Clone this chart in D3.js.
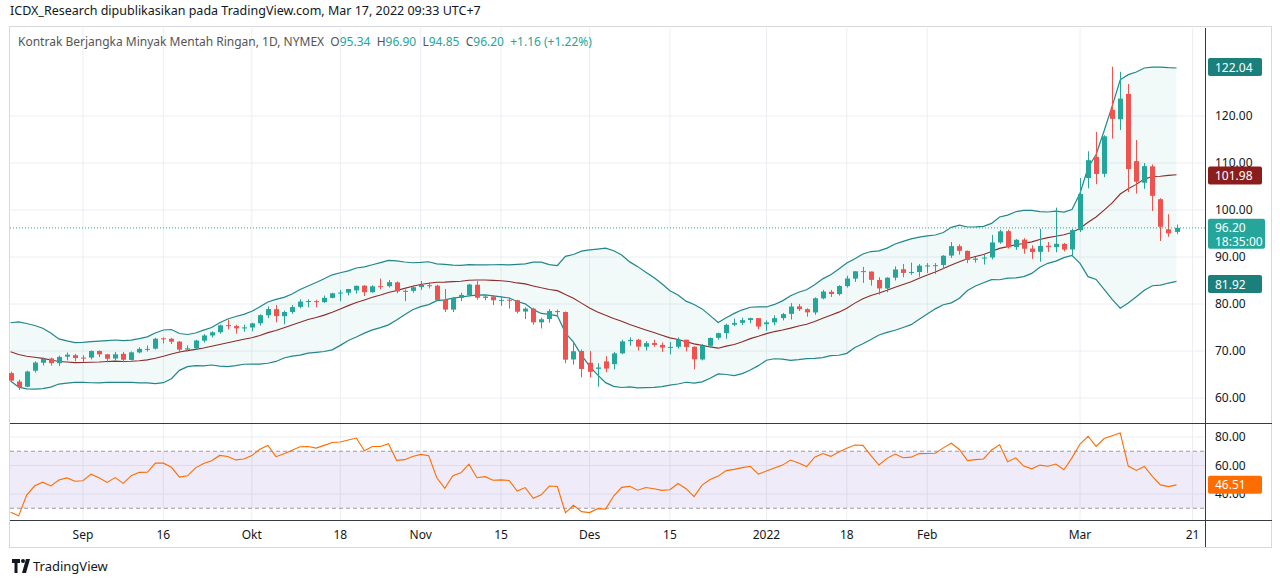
<!DOCTYPE html>
<html><head><meta charset="utf-8">
<script src="https://cdn.jsdelivr.net/npm/d3@7"></script>
<style>body{margin:0;background:#fff;font-family:"Noto Sans",Roboto,sans-serif}</style>
</head><body><div id="chart"></div>
<script>
// trading days shown, Aug 19 2021 .. Mar 17 2022
const dates = ["08-19","08-20","08-23","08-24","08-25","08-26","08-27","08-30","08-31",
  "09-01","09-02","09-03","09-07","09-08","09-09","09-10","09-13","09-14","09-15","09-16","09-17","09-20","09-21","09-22","09-23","09-24","09-27","09-28","09-29","09-30",
  "10-01","10-04","10-05","10-06","10-07","10-08","10-11","10-12","10-13","10-14","10-15","10-18","10-19","10-20","10-21","10-22","10-25","10-26","10-27","10-28","10-29",
  "11-01","11-02","11-03","11-04","11-05","11-08","11-09","11-10","11-11","11-12","11-15","11-16","11-17","11-18","11-19","11-22","11-23","11-24","11-26","11-29","11-30",
  "12-01","12-02","12-03","12-06","12-07","12-08","12-09","12-10","12-13","12-14","12-15","12-16","12-17","12-20","12-21","12-22","12-23","12-27","12-28","12-29","12-30","12-31",
  "01-03","01-04","01-05","01-06","01-07","01-10","01-11","01-12","01-13","01-14","01-18","01-19","01-20","01-21","01-24","01-25","01-26","01-27","01-28","01-31",
  "02-01","02-02","02-03","02-04","02-07","02-08","02-09","02-10","02-11","02-14","02-15","02-16","02-17","02-18","02-22","02-23","02-24","02-25","02-28",
  "03-01","03-02","03-03","03-04","03-07","03-08","03-09","03-10","03-11","03-14","03-15","03-16","03-17"];

const opens = [65.3,63.5,62.4,65.8,67.5,68.4,67.4,68.8,69.1,
  68.6,68.6,70.0,69.3,68.4,69.4,68.1,69.7,70.4,70.5,72.7,72.6,72.0,70.3,70.6,72.2,73.3,74.0,75.5,75.3,74.8,
  75.0,75.9,77.6,78.9,77.4,78.3,79.4,80.5,80.6,80.4,81.3,82.3,82.4,82.9,83.9,82.5,83.8,83.8,84.6,82.7,82.8,
  83.6,84.0,83.9,80.9,78.8,81.3,81.9,84.1,81.3,81.6,80.8,80.9,80.8,78.4,79.0,76.1,76.8,78.5,78.3,68.2,70.0,
  67.5,66.2,67.8,67.2,69.5,72.1,72.4,70.9,71.7,71.3,70.7,70.9,72.4,70.9,68.2,71.1,72.8,73.8,75.6,76.0,76.6,77.0,
  75.7,76.1,77.0,77.9,79.5,78.9,78.2,81.2,82.6,82.1,83.8,85.4,87.0,86.9,85.1,83.3,85.6,87.4,86.6,86.8,
  88.2,88.2,88.3,90.3,92.3,91.3,89.4,89.7,89.9,93.1,95.5,92.1,93.7,91.8,91.1,92.4,92.1,92.8,91.6,
  95.7,106.8,111.3,107.7,121.3,119.3,124.7,110.4,105.8,109.3,102.3,95.9,95.34];
const highs = [65.6,63.9,65.8,67.8,68.6,68.6,69.0,69.7,69.4,
  69.1,70.1,70.1,69.4,69.8,69.8,69.9,70.8,71.2,72.8,72.9,72.8,72.1,71.2,72.4,73.6,74.2,75.6,76.7,75.6,75.6,
  76.0,77.8,79.5,79.8,78.6,79.8,81.0,81.0,80.9,81.8,82.4,83.0,83.2,83.9,84.0,84.0,85.4,85.1,84.8,83.1,84.0,
  84.9,84.6,84.1,83.2,81.5,82.4,84.3,84.9,82.0,81.9,81.6,81.4,80.9,79.3,79.2,77.1,78.9,78.8,78.4,72.1,70.3,
  70.0,67.4,68.9,69.8,72.4,72.9,72.6,72.1,72.4,71.8,71.9,72.9,72.4,71.0,71.5,72.9,73.9,75.8,76.9,77.1,77.1,77.0,
  76.5,77.6,78.1,80.2,80.0,79.1,81.4,83.0,83.0,84.0,86.0,87.0,87.9,86.9,85.7,85.7,88.0,88.5,88.8,88.5,
  88.7,88.7,90.4,93.2,92.7,91.4,90.0,90.5,94.7,95.8,95.8,93.8,94.0,92.5,96.0,93.2,100.5,93.0,96.0,
  106.8,112.5,116.6,115.9,130.5,129.4,126.8,114.9,110.0,109.7,102.5,99.1,96.90];
const lows = [63.3,61.7,62.3,65.4,66.9,66.9,66.8,68.0,67.8,
  67.6,68.2,68.7,67.6,68.0,67.6,68.0,69.5,69.9,70.3,71.6,71.5,69.7,69.9,70.3,71.8,72.9,73.7,74.6,73.7,74.1,
  74.2,75.4,77.0,76.1,75.7,77.9,79.1,79.3,79.3,80.2,81.2,80.6,81.8,82.2,81.7,82.4,83.1,83.5,82.3,80.6,82.4,
  83.0,83.3,80.6,78.3,78.3,80.6,81.6,80.9,80.8,79.8,79.6,79.0,78.0,76.8,75.6,74.8,76.0,77.4,67.4,67.1,64.4,
  64.4,62.4,65.5,66.1,69.3,71.1,70.1,70.1,70.9,69.8,69.3,70.5,69.9,66.1,68.0,70.8,72.4,72.6,75.3,75.5,75.9,74.6,
  74.3,75.5,76.5,76.7,78.5,77.3,77.7,81.0,81.5,81.8,83.5,84.7,84.5,83.9,82.0,82.5,85.0,85.7,86.2,85.8,
  86.6,86.4,87.4,89.8,90.5,88.7,88.8,88.4,89.5,92.8,91.8,91.5,90.7,89.6,89.0,91.1,91.0,91.2,90.1,
  95.3,104.6,105.5,107.0,115.2,117.0,103.8,103.5,104.5,99.8,93.4,94.3,94.85];
const closes = [63.69,62.32,65.64,67.54,68.36,67.42,68.74,69.21,68.50,
  68.59,69.99,69.29,68.35,69.30,68.14,69.72,70.45,70.46,72.61,72.61,71.97,70.29,70.56,72.23,73.30,73.98,75.45,75.29,74.83,75.03,
  75.88,77.62,78.93,77.43,78.30,79.35,80.52,80.64,80.44,81.31,82.28,82.44,83.19,83.87,82.50,83.76,83.76,84.65,82.66,82.81,83.57,
  84.05,83.91,80.86,78.81,81.27,81.93,84.15,81.34,81.59,80.79,80.88,80.76,78.36,79.01,76.10,76.75,78.50,78.39,68.15,69.95,66.18,
  65.57,66.50,66.26,69.49,72.05,72.36,70.94,71.67,71.29,70.73,70.87,72.38,70.86,68.23,71.12,72.76,73.79,75.57,75.98,76.56,76.99,75.21,
  76.08,76.99,77.85,79.46,78.90,78.23,81.22,82.64,82.12,83.82,85.43,86.96,86.90,85.14,83.31,85.60,87.35,86.61,86.82,88.15,
  88.20,88.26,90.27,92.31,91.32,89.36,89.66,89.88,93.10,95.46,92.07,93.66,91.76,91.07,92.35,92.10,92.81,91.59,95.72,
  103.41,110.60,107.67,115.68,119.40,123.70,108.70,106.02,109.33,103.01,96.44,95.04,96.20];
// closes before the visible range (Jul 22 .. Aug 18), used only to warm up the indicators
const warmupCloses = [71.91,72.07,71.91,71.65,72.39,73.62,73.95,71.26,70.56,68.15,69.09,68.28,66.48,68.29,69.25,69.09,68.44,67.29,66.59,65.46];

const xTickDates = ["09-01","09-16","10-01","10-18","11-01","11-15","12-01","12-15","01-03","01-18","02-01","03-01","03-21"];
const xTickLabels = ["Sep","16","Okt","18","Nov","15","Des","15","2022","18","Feb","Mar","21"];
const priceTicks = [60,70,80,90,100,110,120];
const rsiTicks = [40,60,80];
const lastTags = {upper:122.04, mid:101.98, lower:81.92, price:96.20, rsi:46.51};

// indicators
const all = warmupCloses.concat(closes), off = warmupCloses.length;
const bb = closes.map((c,i) => {
  const w = all.slice(off+i-19, off+i+1), m = d3.mean(w), s = Math.sqrt(d3.mean(w, v => (v-m)**2));
  return {m, u:m+2*s, l:m-2*s};
});
let ag=0, al=0; const rsiAll=[];
for (let i=1;i<all.length;i++){
  const d=all[i]-all[i-1], g=Math.max(d,0), lo=Math.max(-d,0);
  if(i<=14){ag+=g/14; al+=lo/14;} else {ag=(ag*13+g)/14; al=(al*13+lo)/14;}
  rsiAll[i]= al===0?100:100-100/(1+ag/al);
}
const rsi = closes.map((c,i)=>rsiAll[off+i]);

// extra trading days after the last bar for the axis label
const extra = {"03-21":147};
const idx = d => dates.indexOf(d) >= 0 ? dates.indexOf(d) : extra[d];

const W=1280, H=584, padL=10, axisX=1205, topY=28, mainB=423, rsiB=520;
const svg = d3.select("#chart").append("svg").attr("width",W).attr("height",H)
  .style("font-family",'"Noto Sans",sans-serif');

const x = d3.scaleLinear().domain([0,145]).range([10.6,1176.5]);
const y = d3.scaleLinear().domain([60,120]).range([398,116]);
// the Bollinger overlay sits on its own (hidden) scale
const yb = d3.scaleLinear().domain([81.92,122.04]).range([284,67]);
const yr = d3.scaleLinear().domain([40,80]).range([494,437]);

svg.append("text").attr("x",10).attr("y",15).attr("font-size",12.5).attr("fill","#131722")
  .text("ICDX_Research dipublikasikan pada TradingView.com, Mar 17, 2022 09:33 UTC+7");
svg.append("rect").attr("x",9.5).attr("y",26.5).attr("width",1262).attr("height",521).attr("fill","none").attr("stroke","#d6dae0");

// grid
const grid = svg.append("g").attr("stroke","#eaeef3");
xTickDates.forEach(d => grid.append("line").attr("x1",x(idx(d))).attr("x2",x(idx(d))).attr("y1",topY).attr("y2",rsiB));
priceTicks.forEach(v => grid.append("line").attr("x1",padL).attr("x2",axisX).attr("y1",y(v)).attr("y2",y(v)));
rsiTicks.forEach(v => grid.append("line").attr("x1",padL).attr("x2",axisX).attr("y1",yr(v)).attr("y2",yr(v)));

// bollinger
const main = svg.append("g");
main.append("path").datum(bb).attr("fill","rgba(38,166,154,0.06)")
  .attr("d", d3.area().x((d,i)=>x(i)).y0(d=>yb(d.l)).y1(d=>yb(d.u)));
main.append("path").datum(bb).attr("fill","none").attr("stroke","#22878a").attr("stroke-width",1.2)
  .attr("d", d3.line().x((d,i)=>x(i)).y(d=>yb(d.u)));
main.append("path").datum(bb).attr("fill","none").attr("stroke","#22878a").attr("stroke-width",1.2)
  .attr("d", d3.line().x((d,i)=>x(i)).y(d=>yb(d.l)));
main.append("path").datum(bb).attr("fill","none").attr("stroke","#8e2b2b").attr("stroke-width",1.1)
  .attr("d", d3.line().x((d,i)=>x(i)).y(d=>yb(d.m)));

// candles
const up="#26a69a", dn="#ef5350";
const cg = main.selectAll("g.c").data(closes).join("g");
cg.append("line").attr("x1",(d,i)=>Math.round(x(i))+0.5).attr("x2",(d,i)=>Math.round(x(i))+0.5)
  .attr("y1",(d,i)=>y(highs[i])).attr("y2",(d,i)=>y(lows[i]))
  .attr("stroke",(d,i)=>d>=opens[i]?up:dn);
cg.append("rect").attr("x",(d,i)=>Math.round(x(i))-2).attr("width",5)
  .attr("y",(d,i)=>y(Math.max(d,opens[i])))
  .attr("height",(d,i)=>Math.max(1,Math.abs(y(d)-y(opens[i]))))
  .attr("fill",(d,i)=>d>=opens[i]?up:dn);

// last price line
svg.append("line").attr("x1",padL).attr("x2",axisX).attr("y1",y(lastTags.price)).attr("y2",y(lastTags.price))
  .attr("stroke",up).attr("stroke-dasharray","1,2");

// legend
const lg = svg.append("text").attr("x",18).attr("y",46).attr("font-size",12).attr("fill","#555").style("white-space","pre");
lg.append("tspan").text("Kontrak Berjangka Minyak Mentah Ringan, 1D, NYMEX  ");
[["O","95.34"],["H","96.90"],["L","94.85"],["C","96.20"]].forEach(([k,v])=>{
  lg.append("tspan").text(k); lg.append("tspan").attr("fill",up).text(v+"  ");
});
lg.append("tspan").attr("fill",up).text("+1.16 (+1.22%)");

// pane separator & rsi
svg.append("line").attr("x1",padL).attr("x2",1272).attr("y1",mainB+0.5).attr("y2",mainB+0.5).attr("stroke","#363a45");
svg.append("rect").attr("x",padL).attr("width",axisX-padL).attr("y",yr(70)).attr("height",yr(30)-yr(70)).attr("fill","rgba(126,87,194,0.12)");
[70,30].forEach(v=>svg.append("line").attr("x1",padL).attr("x2",axisX).attr("y1",yr(v)).attr("y2",yr(v))
  .attr("stroke","#9a9aa8").attr("stroke-dasharray","4,3"));
svg.append("defs").append("clipPath").attr("id","rc").append("rect").attr("x",padL).attr("y",mainB+1).attr("width",axisX-padL).attr("height",rsiB-mainB-1);
svg.append("path").datum(rsi).attr("clip-path","url(#rc)").attr("fill","none").attr("stroke","#ff6d00").attr("stroke-width",1.1)
  .attr("d", d3.line().x((d,i)=>x(i)).y(d=>yr(d)));

// axes lines
svg.append("line").attr("x1",axisX+0.5).attr("x2",axisX+0.5).attr("y1",topY).attr("y2",547).attr("stroke","#363a45");
svg.append("line").attr("x1",padL).attr("x2",1272).attr("y1",rsiB+0.5).attr("y2",rsiB+0.5).attr("stroke","#363a45");

// tick labels
const ax = svg.append("g").attr("font-size",12).attr("fill","#131722");
priceTicks.forEach(v=>ax.append("text").attr("x",1215).attr("y",y(v)+4).text(v.toFixed(2)));
rsiTicks.forEach(v=>ax.append("text").attr("x",1215).attr("y",yr(v)+4).text(v.toFixed(2)));
xTickDates.forEach((d,i)=>ax.append("text").attr("x",x(idx(d))).attr("y",539).attr("text-anchor","middle").text(xTickLabels[i]));

// price tags
function tag(v, sc, bg, h, sub){
  const yy = sc(v);
  svg.append("rect").attr("x",1208).attr("y",yy-9).attr("width",sub?57:54).attr("height",h).attr("rx",2).attr("fill",bg);
  svg.append("text").attr("x",1215).attr("y",yy+4.5).attr("font-size",12).attr("fill","#fff").text(v.toFixed(2));
  if(sub) svg.append("text").attr("x",1215).attr("y",yy+18).attr("font-size",12).attr("fill","#fff").text(sub);
}
tag(lastTags.upper,yb,"#1b7f7c",18);
tag(lastTags.mid,yb,"#8b1d1d",18);
tag(lastTags.lower,yb,"#1b7f7c",18);
tag(lastTags.price,y,up,30,"18:35:00");
tag(lastTags.rsi,yr,"#ff6d00",18);

// logo
const lo = svg.append("g").attr("transform","translate(12,559)");
lo.append("path").attr("d","M0 0h8v4h-2.5v10h-3v-10h-2.5z").attr("fill","#131722");
lo.append("circle").attr("cx",11).attr("cy",2).attr("r",2).attr("fill","#131722");
lo.append("path").attr("d","M14 0h4l-4 14h-4z").attr("fill","#131722");
svg.append("text").attr("x",33).attr("y",571).attr("font-size",13).attr("fill","#131722").text("TradingView");
</script></body></html>
